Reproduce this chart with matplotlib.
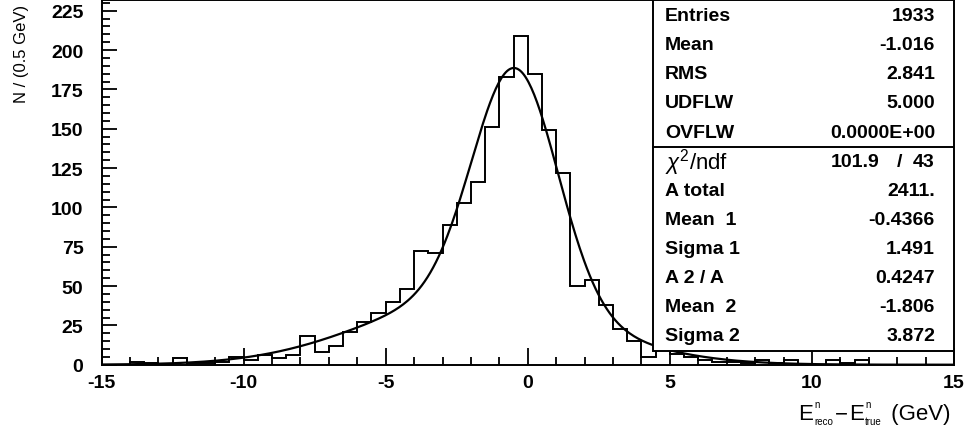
import numpy as np
import matplotlib
matplotlib.use("Agg")
import matplotlib.pyplot as plt
from matplotlib.patches import Rectangle

plt.rcParams['font.family'] = ['Liberation Sans', 'DejaVu Sans']
plt.rcParams['mathtext.fontset'] = 'custom'
plt.rcParams['mathtext.rm'] = 'Liberation Sans'
plt.rcParams['mathtext.it'] = 'Liberation Sans:italic'
plt.rcParams['axes.unicode_minus'] = False

# --- neutrino energy resolution histogram, 0.5 GeV bins from -15 to 15 ---
x_min, x_max, bin_width = -15.0, 15.0, 0.5
counts = [
    0, 0, 2, 1, 0, 4, 1, 1, 2, 5,         # -15 .. -10
    3, 6, 4, 6, 18, 8, 12, 21, 27, 33,    # -10 .. -5
    40, 48, 72, 71, 89, 103, 116, 151, 183, 209,   # -5 .. 0
    185, 149, 122, 50, 54, 38, 23, 15, 5, 10,      # 0 .. 5
    7, 5, 3, 2, 2, 1, 3, 1, 3, 0,         # 5 .. 10
    0, 3, 1, 3, 0, 0, 0, 0, 0, 0,         # 10 .. 15
]

# double gaussian fit results
entries = 1933
a_total = 2411.
mean1, sigma1 = -0.4366, 1.491
frac2 = 0.4247
mean2, sigma2 = -1.806, 3.872
chi2, ndf = 101.9, 43

stat_labels = ['Entries', 'Mean', 'RMS', 'UDFLW', 'OVFLW']
stat_values = ['1933', '-1.016', '2.841', '5.000', '0.0000E+00']
fit_labels = ['A total', 'Mean  1', 'Sigma 1', 'A 2 / A', 'Mean  2', 'Sigma 2']
fit_values = ['2411.', '-0.4366', '1.491', '0.4247', '-1.806', '3.872']


def gauss(x, m, s):
    return np.exp(-0.5 * ((x - m) / s) ** 2) / (s * np.sqrt(2 * np.pi))


edges = np.linspace(x_min, x_max, len(counts) + 1)
xf = np.linspace(x_min, x_max, 600)
fit = entries * bin_width * ((1 - frac2) * gauss(xf, mean1, sigma1)
                             + frac2 * gauss(xf, mean2, sigma2))

fig = plt.figure(figsize=(9.65, 4.35), dpi=100)
ax = fig.add_axes([0.1052, 0.1593, 0.8834, 0.8391])

ax.stairs(counts, edges, color='black', lw=1.4, zorder=2)
ax.plot(xf, fit, color='black', lw=1.6, zorder=3)

ax.set_xlim(x_min, x_max)
ax.set_ylim(0, 232)
ax.set_xticks(np.arange(-15, 16, 5))
ax.set_xticks(np.arange(-15, 16, 1), minor=True)
ax.set_yticks(np.arange(0, 226, 25))
ax.set_yticks(np.arange(0, 231, 5), minor=True)
ax.tick_params(which='both', direction='in', width=1.3, color='black',
               top=False, right=False)
ax.tick_params(axis='x', which='major', length=12, pad=7)
ax.tick_params(axis='x', which='minor', length=6)
ax.tick_params(axis='y', which='major', length=11, pad=13)
ax.tick_params(axis='y', which='minor', length=6)
for lab in ax.get_xticklabels() + ax.get_yticklabels():
    lab.set_fontweight('bold')
    lab.set_fontsize(14)
for sp in ax.spines.values():
    sp.set_linewidth(1.4)

# statistics box
box_left, box_bottom = 0.647, 0.0375
ax.add_patch(Rectangle((box_left, box_bottom), 1 - box_left, 1 - box_bottom,
                       transform=ax.transAxes, facecolor='white',
                       edgecolor='black', lw=1.4, zorder=4))
divider_y = 0.5975
ax.plot([box_left, 1], [divider_y, divider_y], transform=ax.transAxes,
        color='black', lw=1.4, zorder=5)

row_top_px, row_step_px = 16.5, 29.1
ax_h_px, ax_bottom_px = 365.2, 365.7
label_x, value_x = 0.661, 0.9777


def row_y(i):
    return (ax_bottom_px - (row_top_px + row_step_px * i)) / ax_h_px


txt = dict(transform=ax.transAxes, fontsize=14, fontweight='bold',
           va='center', zorder=6)
for i, (lab, val) in enumerate(zip(stat_labels, stat_values)):
    ax.text(label_x, row_y(i), lab, ha='left', **txt)
    ax.text(value_x, row_y(i), val, ha='right', **txt)

ax.text(label_x, row_y(5), r'$\chi^2$/ndf', ha='left', va='center',
        fontsize=16, transform=ax.transAxes, zorder=6)
ax.text(0.913, row_y(5), f'{chi2:.1f}', ha='right', **txt)
ax.text(0.936, row_y(5), '/', ha='center', **txt)
ax.text(value_x, row_y(5), f'{ndf}', ha='right', **txt)

for i, (lab, val) in enumerate(zip(fit_labels, fit_values)):
    ax.text(label_x, row_y(6 + i), lab, ha='left', **txt)
    ax.text(value_x, row_y(6 + i), val, ha='right', **txt)

# axis titles
fig.text(0.022, 1 - 103 / 435, 'N / (0.5 GeV)', rotation=90,
         ha='center', va='bottom', fontsize=12)

# x title built piece by piece so the indices stay small
yb = 1 - 420 / 435
main = dict(fontsize=16, va='baseline')
small = dict(fontsize=7, va='baseline')
e1 = fig.text(798 / 965, yb, 'E', **main)
sup1 = ax.annotate('n', xy=(1, yb + 0.028), xycoords=(e1, 'figure fraction'),
                   xytext=(1, 0), textcoords='offset points', **small)
sub1 = ax.annotate('reco', xy=(1, yb - 0.012), xycoords=(e1, 'figure fraction'),
                   xytext=(1, 0), textcoords='offset points', **small)
dash = ax.annotate('\u2212', xy=(1, yb), xycoords=(sub1, 'figure fraction'),
                   xytext=(1, 0), textcoords='offset points', **main)
e2 = ax.annotate('E', xy=(1, yb), xycoords=(dash, 'figure fraction'),
                 xytext=(1, 0), textcoords='offset points', **main)
sup2 = ax.annotate('n', xy=(1, yb + 0.028), xycoords=(e2, 'figure fraction'),
                   xytext=(1, 0), textcoords='offset points', **small)
sub2 = ax.annotate('true', xy=(1, yb - 0.012), xycoords=(e2, 'figure fraction'),
                   xytext=(1, 0), textcoords='offset points', **small)
gev = ax.annotate(' (GeV)', xy=(1, yb), xycoords=(sub2, 'figure fraction'),
                  xytext=(2, 0), textcoords='offset points', **main)
for t in (sup1, sub1, dash, e2, sup2, sub2, gev):
    t.set_annotation_clip(False)

fig.savefig('out.png', dpi=100)
